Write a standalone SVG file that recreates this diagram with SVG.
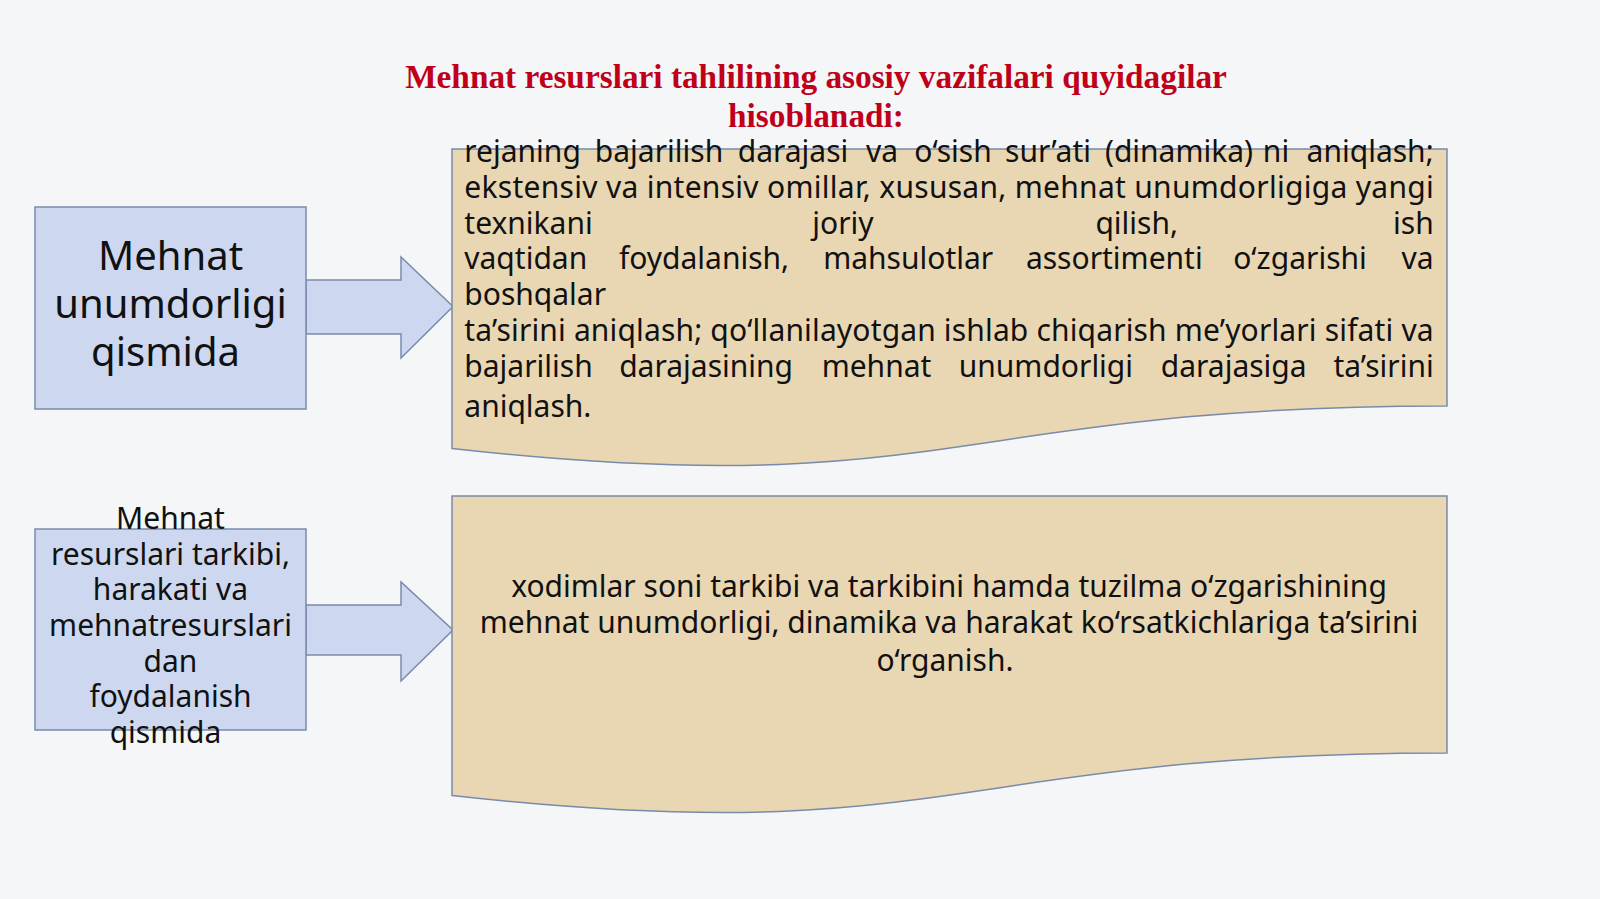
<svg xmlns="http://www.w3.org/2000/svg" width="1600" height="899" viewBox="0 0 1600 899">
<defs>
<style>
.title{font-family:"Liberation Serif","Times New Roman",serif;font-weight:bold;font-size:33.3px;fill:#c00018;text-anchor:middle}
.blue{fill:#cdd8f0;stroke:#7a8aaa;stroke-width:1.5}
.doc{fill:#e9d7b3;stroke:#7a8aaa;stroke-width:1.5}
.body{font-family:"Noto Sans","Open Sans",sans-serif;font-size:30px;fill:#111}
.big{font-family:"Noto Sans","Open Sans",sans-serif;font-size:40px;fill:#111;text-anchor:middle}
.mid{text-anchor:middle}
.end{text-anchor:end}
</style>
</defs>
<rect x="0" y="0" width="1600" height="899" fill="#f4f6f8"/>
<g id="title">
<text class="title" x="816" y="87.5">Mehnat resurslari tahlilining asosiy vazifalari quyidagilar</text>
<text class="title" x="816" y="127">hisoblanadi:</text>
</g>
<g id="connectors">
<path class="blue" d="M306,280 H401 V257 L453,306.5 L401,358 V334 H306 Z"/>
<path class="blue" d="M306,605 H401 V582 L453,630 L401,681 V655 H306 Z"/>
</g>
<g id="node-left1">
<rect class="blue" x="35" y="207" width="271" height="202"/>
<text class="big" x="170.5" y="269.5">Mehnat</text>
<text class="big" x="170.5" y="317.5">unumdorligi</text>
<text class="big" x="165.5" y="365.5">qismida</text>
</g>
<g id="node-left2">
<rect class="blue" x="35" y="529" width="271" height="201"/>
<text class="body mid" x="170.5" y="528.5">Mehnat</text>
<text class="body mid" x="170.5" y="564.5">resurslari tarkibi,</text>
<text class="body mid" x="170.5" y="600">harakati va</text>
<text class="body mid" x="170.5" y="636">mehnatresurslari</text>
<text class="body mid" x="170.5" y="671.5">dan</text>
<text class="body mid" x="170.5" y="707">foydalanish</text>
<text class="body mid" x="165.5" y="743">qismida</text>
</g>
<g id="node-doc1">
<path class="doc" d="M452,149 H1447 V406 C949.5,406 949.5,504 452,448.5 Z"/>
<text class="body" x="464.3" y="162">rejaning</text>
<text class="body mid" x="659" y="162">bajarilish</text>
<text class="body mid" x="793" y="162">darajasi</text>
<text class="body mid" x="882" y="162">va</text>
<text class="body mid" x="953" y="162">o‘sish</text>
<text class="body mid" x="1048" y="162">sur’ati</text>
<text class="body mid" x="1179" y="162">(dinamika)</text>
<text class="body mid" x="1276" y="162">ni</text>
<text class="body end" x="1433.7" y="162">aniqlash;</text>
<text class="body" x="464.3" y="198" textLength="969.4" lengthAdjust="spacing">ekstensiv va intensiv omillar, xususan, mehnat unumdorligiga yangi</text>
<text class="body" x="464.3" y="233.6">texnikani</text>
<text class="body mid" x="843" y="233.6">joriy</text>
<text class="body mid" x="1136.7" y="233.6">qilish,</text>
<text class="body end" x="1433.7" y="233.6">ish</text>
<text class="body" x="464.3" y="269.4">vaqtidan</text>
<text class="body mid" x="704" y="269.4">foydalanish,</text>
<text class="body mid" x="908.2" y="269.4">mahsulotlar</text>
<text class="body mid" x="1114.3" y="269.4">assortimenti</text>
<text class="body mid" x="1300" y="269.4">o‘zgarishi</text>
<text class="body end" x="1433.7" y="269.4">va</text>
<text class="body" x="464.3" y="305">boshqalar</text>
<text class="body" x="464.3" y="340.8" textLength="969.4" lengthAdjust="spacing">ta’sirini aniqlash; qo‘llanilayotgan ishlab chiqarish me’yorlari sifati va</text>
<text class="body" x="464.3" y="376.5">bajarilish</text>
<text class="body mid" x="706.1" y="376.5">darajasining</text>
<text class="body mid" x="876.5" y="376.5">mehnat</text>
<text class="body mid" x="1045.9" y="376.5">unumdorligi</text>
<text class="body mid" x="1233.7" y="376.5">darajasiga</text>
<text class="body end" x="1433.7" y="376.5">ta’sirini</text>
<text class="body" x="464.3" y="417">aniqlash.</text>
</g>
<g id="node-doc2">
<path class="doc" d="M452,496 H1447 V753 C949.5,753 949.5,851 452,795.5 Z"/>
<text class="body mid" x="949" y="597">xodimlar soni tarkibi va tarkibini hamda tuzilma o‘zgarishining</text>
<text class="body mid" x="949" y="632.6">mehnat unumdorligi, dinamika va harakat ko‘rsatkichlariga ta’sirini</text>
<text class="body mid" x="945" y="671.4">o‘rganish.</text>
</g>
</svg>
